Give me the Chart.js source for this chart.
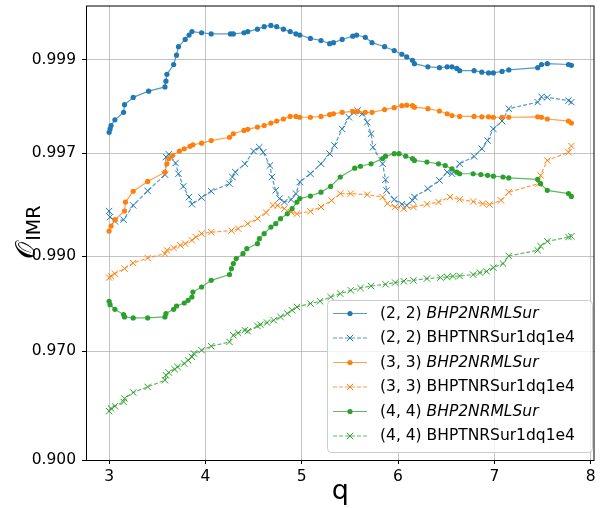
<!DOCTYPE html>
<html>
<head>
<meta charset="utf-8">
<script src="https://cdn.jsdelivr.net/npm/chart.js@4.4.0/dist/chart.umd.min.js"></script>
<style>
  html, body { margin: 0; padding: 0; background: #fff; }
</style>
</head>
<body>
<canvas id="imrChart" width="600" height="508"></canvas>
<script>
// ---- data (q, overlap O) ----
const q22Sur = [3.00,3.01,3.02,3.06,3.15,3.16,3.25,3.41,3.58,3.59,3.60,3.67,3.70,3.72,3.79,3.83,3.86,3.96,4.06,4.26,4.29,4.40,4.44,4.54,4.61,4.68,4.74,4.81,4.88,4.94,4.98,5.09,5.20,5.29,5.33,5.42,5.53,5.57,5.66,5.73,5.86,5.96,6.04,6.09,6.15,6.17,6.31,6.43,6.51,6.56,6.61,6.64,6.79,6.87,6.94,6.99,7.08,7.15,7.45,7.49,7.55,7.77,7.80];
const o22Sur = [0.99765,0.99774,0.99783,0.99797,0.99814,0.99830,0.99844,0.99855,0.99862,0.99871,0.99881,0.99894,0.99905,0.99914,0.99921,0.99925,0.99928,0.99927,0.99926,0.99926,0.99926,0.99927,0.99928,0.99930,0.99932,0.99933,0.99932,0.99930,0.99928,0.99926,0.99925,0.99922,0.99920,0.99917,0.99918,0.99921,0.99924,0.99925,0.99923,0.99918,0.99914,0.99910,0.99906,0.99903,0.99899,0.99895,0.99891,0.99890,0.99891,0.99891,0.99889,0.99886,0.99886,0.99884,0.99883,0.99883,0.99885,0.99887,0.99890,0.99894,0.99895,0.99894,0.99893];

const q22Tnr = [3.00,3.01,3.06,3.15,3.25,3.40,3.58,3.59,3.62,3.69,3.72,3.77,3.83,3.86,3.96,4.06,4.25,4.28,4.31,4.41,4.50,4.56,4.60,4.67,4.69,4.73,4.77,4.82,4.89,4.94,4.98,5.09,5.20,5.29,5.34,5.42,5.49,5.54,5.58,5.63,5.68,5.72,5.74,5.84,5.87,5.88,5.96,6.04,6.09,6.15,6.17,6.31,6.43,6.51,6.56,6.64,6.79,6.87,6.93,6.99,7.08,7.15,7.45,7.49,7.55,7.77,7.80];
const o22Tnr = [0.99409,0.99366,0.99333,0.99346,0.99447,0.99533,0.99614,0.99686,0.99696,0.99663,0.99618,0.99557,0.99498,0.99454,0.99495,0.99531,0.99571,0.99603,0.99625,0.99660,0.99707,0.99720,0.99703,0.99653,0.99603,0.99536,0.99489,0.99468,0.99483,0.99518,0.99579,0.99618,0.99660,0.99698,0.99726,0.99774,0.99803,0.99814,0.99818,0.99811,0.99791,0.99761,0.99720,0.99660,0.99590,0.99536,0.99483,0.99454,0.99447,0.99478,0.99498,0.99545,0.99587,0.99625,0.99618,0.99660,0.99688,0.99715,0.99741,0.99774,0.99794,0.99822,0.99835,0.99845,0.99844,0.99838,0.99835];

const q33Sur = [3.00,3.02,3.06,3.16,3.17,3.25,3.40,3.58,3.60,3.62,3.66,3.73,3.78,3.84,3.87,3.96,4.06,4.25,4.29,4.40,4.44,4.54,4.61,4.68,4.74,4.81,4.88,4.94,4.98,5.09,5.20,5.29,5.33,5.42,5.53,5.58,5.66,5.73,5.86,5.96,6.04,6.09,6.15,6.17,6.31,6.43,6.51,6.56,6.64,6.79,6.87,6.94,6.99,7.08,7.15,7.45,7.49,7.55,7.77,7.80];
const o33Sur = [0.99253,0.99296,0.99346,0.99409,0.99468,0.99531,0.99582,0.99625,0.99660,0.99680,0.99692,0.99707,0.99715,0.99723,0.99728,0.99733,0.99741,0.99751,0.99761,0.99770,0.99773,0.99779,0.99783,0.99789,0.99794,0.99799,0.99805,0.99805,0.99803,0.99803,0.99805,0.99809,0.99811,0.99814,0.99816,0.99816,0.99814,0.99814,0.99820,0.99824,0.99828,0.99829,0.99828,0.99825,0.99822,0.99817,0.99811,0.99807,0.99805,0.99805,0.99804,0.99804,0.99803,0.99803,0.99803,0.99804,0.99803,0.99799,0.99794,0.99789];

const q33Tnr = [3.00,3.02,3.06,3.16,3.25,3.40,3.58,3.60,3.67,3.74,3.79,3.86,3.90,3.96,4.06,4.27,4.34,4.44,4.54,4.63,4.70,4.75,4.82,4.89,4.95,5.09,5.20,5.31,5.40,5.51,5.68,5.84,5.89,5.97,6.06,6.16,6.30,6.42,6.54,6.64,6.78,6.88,6.95,7.07,7.15,7.46,7.48,7.55,7.77,7.80];
const o33Tnr = [0.98716,0.98735,0.98774,0.98843,0.98916,0.98978,0.99028,0.99065,0.99090,0.99118,0.99135,0.99168,0.99199,0.99230,0.99244,0.99257,0.99274,0.99315,0.99354,0.99398,0.99447,0.99447,0.99425,0.99402,0.99390,0.99407,0.99436,0.99478,0.99518,0.99518,0.99512,0.99498,0.99458,0.99436,0.99425,0.99436,0.99454,0.99468,0.99498,0.99484,0.99471,0.99458,0.99452,0.99478,0.99526,0.99571,0.99611,0.99673,0.99703,0.99724];

const q44Sur = [3.00,3.01,3.06,3.15,3.16,3.25,3.40,3.58,3.59,3.67,3.70,3.78,3.82,3.86,3.87,3.96,4.06,4.25,4.27,4.29,4.32,4.39,4.43,4.54,4.56,4.61,4.68,4.73,4.78,4.85,4.90,4.95,4.98,5.09,5.20,5.30,5.40,5.55,5.61,5.72,5.84,5.87,5.96,6.01,6.08,6.15,6.17,6.30,6.42,6.49,6.56,6.61,6.64,6.78,6.86,6.93,6.99,7.09,7.15,7.45,7.48,7.55,7.77,7.80];
const o44Sur = [0.98311,0.98244,0.98147,0.98031,0.97976,0.97952,0.97952,0.97976,0.98054,0.98147,0.98216,0.98277,0.98329,0.98392,0.98482,0.98568,0.98674,0.98760,0.98843,0.98909,0.98971,0.99028,0.99083,0.99135,0.99184,0.99230,0.99287,0.99315,0.99354,0.99390,0.99425,0.99468,0.99489,0.99504,0.99526,0.99557,0.99603,0.99642,0.99650,0.99660,0.99680,0.99689,0.99698,0.99698,0.99689,0.99680,0.99673,0.99667,0.99660,0.99653,0.99639,0.99625,0.99618,0.99618,0.99614,0.99611,0.99607,0.99603,0.99599,0.99592,0.99571,0.99536,0.99518,0.99502];

const q44Tnr = [3.00,3.02,3.06,3.15,3.16,3.25,3.40,3.58,3.59,3.62,3.68,3.71,3.78,3.82,3.86,3.88,3.96,4.06,4.25,4.29,4.34,4.41,4.44,4.54,4.57,4.64,4.71,4.78,4.85,4.90,4.95,5.09,5.19,5.30,5.40,5.51,5.61,5.72,5.87,5.97,6.06,6.16,6.30,6.44,6.51,6.57,6.64,6.78,6.85,6.92,6.99,7.09,7.15,7.45,7.48,7.55,7.77,7.80];
const o44Tnr = [0.94112,0.94286,0.94430,0.94689,0.94887,0.95217,0.95509,0.95834,0.96062,0.96180,0.96321,0.96414,0.96549,0.96677,0.96800,0.96922,0.97036,0.97167,0.97303,0.97502,0.97567,0.97641,0.97614,0.97754,0.97789,0.97840,0.97897,0.97976,0.98054,0.98126,0.98196,0.98266,0.98311,0.98392,0.98454,0.98512,0.98551,0.98584,0.98613,0.98640,0.98661,0.98674,0.98701,0.98716,0.98726,0.98735,0.98740,0.98760,0.98789,0.98806,0.98856,0.98909,0.99001,0.99065,0.99110,0.99158,0.99199,0.99206];

const modePrefix = ['(2, 2) ', '(2, 2) ', '(3, 3) ', '(3, 3) ', '(4, 4) ', '(4, 4) '];
const modelNames = ['BHP2NRMLSur', 'BHPTNRSur1dq1e4', 'BHP2NRMLSur', 'BHPTNRSur1dq1e4', 'BHP2NRMLSur', 'BHPTNRSur1dq1e4'];
const xTickVals = [3, 4, 5, 6, 7, 8];
const yTickVals = [0.900, 0.970, 0.990, 0.997, 0.999];

// logit axis (matplotlib yscale('logit')), done by hand on a linear scale
const logit = o => Math.log10(o / (1 - o));

const BLUE = '#1f77b4', ORANGE = '#ff7f0e', GREEN = '#2ca02c';
const FONT = '"DejaVu Sans", sans-serif';

function fade(hex, a) {
  const n = parseInt(hex.slice(1), 16);
  return `rgba(${n >> 16},${(n >> 8) & 255},${n & 255},${a})`;
}

function series(idx, qs, os, color, dashed) {
  const n = Math.min(qs.length, os.length);
  const pts = [];
  for (let i = 0; i < n; i++) pts.push({ x: qs[i], y: logit(os[i]) });
  return {
    label: modePrefix[idx] + modelNames[idx],
    data: pts,
    showLine: true,
    order: 10 - idx,
    borderColor: fade(color, 0.75),
    borderWidth: 1.2,
    borderDash: dashed ? [4, 2] : [],
    pointStyle: dashed ? 'crossRot' : 'circle',
    pointRadius: dashed ? 4.5 : 2.6,
    pointBorderWidth: dashed ? 1 : 0,
    pointBorderColor: color,
    pointBackgroundColor: color,
    _color: color,
    _dashed: dashed,
  };
}

const datasets = [
  series(0, q22Sur, o22Sur, BLUE, false),
  series(1, q22Tnr, o22Tnr, BLUE, true),
  series(2, q33Sur, o33Sur, ORANGE, false),
  series(3, q33Tnr, o33Tnr, ORANGE, true),
  series(4, q44Sur, o44Sur, GREEN, false),
  series(5, q44Tnr, o44Tnr, GREEN, true),
];

// frame, axis titles and the mixed-font legend
const decorations = {
  id: 'decorations',
  afterDraw(chart) {
    const { ctx, chartArea: a } = chart;
    ctx.save();

    // spines
    ctx.strokeStyle = '#000';
    ctx.lineWidth = 1;
    ctx.setLineDash([]);
    ctx.strokeRect(a.left + 0.5, a.top + 0.5, a.right - a.left - 1, a.bottom - a.top);

    // x title
    ctx.fillStyle = '#000';
    ctx.font = '27px ' + FONT;
    ctx.textAlign = 'center';
    ctx.textBaseline = 'alphabetic';
    ctx.fillText('q', (a.left + a.right) / 2, 499);

    // y title: O_IMR
    ctx.translate(35, (a.top + a.bottom) / 2);
    ctx.rotate(-Math.PI / 2);
    ctx.textAlign = 'left';
    ctx.font = '27px ' + FONT;
    const wO = ctx.measureText('𝒪').width;
    ctx.font = '19px ' + FONT;
    const wS = ctx.measureText('IMR').width;
    const x0 = -(wO + wS) / 2;
    ctx.font = '27px ' + FONT;
    ctx.fillText('𝒪', x0, 0);
    ctx.font = '19px ' + FONT;
    ctx.fillText('IMR', x0 + wO + 1, 5);
    ctx.restore();

    // legend
    ctx.save();
    const bx = 327.5, by = 300.5, bw = 265, bh = 152;
    ctx.beginPath();
    ctx.roundRect(bx, by, bw, bh, 4);
    ctx.fillStyle = 'rgba(255,255,255,0.8)';
    ctx.fill();
    ctx.strokeStyle = '#cccccc';
    ctx.lineWidth = 1;
    ctx.stroke();
    ctx.textBaseline = 'middle';
    ctx.textAlign = 'left';
    chart.data.datasets.forEach((ds, i) => {
      const cy = 313.5 + i * 24.5;
      ctx.strokeStyle = fade(ds._color, 0.75);
      ctx.lineWidth = 1.2;
      ctx.setLineDash(ds._dashed ? [4, 2] : []);
      ctx.beginPath();
      ctx.moveTo(333, cy);
      ctx.lineTo(367, cy);
      ctx.stroke();
      ctx.setLineDash([]);
      if (ds._dashed) {
        const r = 3.2;
        ctx.strokeStyle = ds._color;
        ctx.lineWidth = 1;
        ctx.beginPath();
        ctx.moveTo(350 - r, cy - r); ctx.lineTo(350 + r, cy + r);
        ctx.moveTo(350 - r, cy + r); ctx.lineTo(350 + r, cy - r);
        ctx.stroke();
      } else {
        ctx.fillStyle = ds._color;
        ctx.beginPath();
        ctx.arc(350, cy, 2.6, 0, Math.PI * 2);
        ctx.fill();
      }
      ctx.fillStyle = '#000';
      ctx.font = '15.5px ' + FONT;
      ctx.fillText(modePrefix[i], 380, cy);
      const w = ctx.measureText(modePrefix[i]).width;
      ctx.font = (ds._dashed ? '' : 'italic ') + '15.5px ' + FONT;
      ctx.fillText(modelNames[i], 380 + w, cy);
    });
    ctx.restore();
  }
};

new Chart(document.getElementById('imrChart'), {
  type: 'scatter',
  data: { datasets },
  options: {
    responsive: false,
    animation: false,
    layout: { padding: { top: 5, right: 1, left: 0, bottom: 0 } },
    plugins: { legend: { display: false }, tooltip: { enabled: false } },
    scales: {
      x: {
        type: 'linear',
        min: 2.76,
        max: 8.04,
        border: { display: false },
        grid: { color: 'rgba(176,176,176,0.75)', lineWidth: 1, tickColor: '#000', tickLength: 4, tickWidth: 1 },
        ticks: { color: '#000', font: { family: FONT, size: 15.5 }, padding: 4, maxRotation: 0, autoSkip: false },
        afterBuildTicks: s => { s.ticks = xTickVals.map(v => ({ value: v })); },
        afterFit: s => { s.height = 48; s.paddingLeft = 0; s.paddingRight = 0; },
      },
      y: {
        type: 'linear',
        min: logit(yTickVals[0]),
        max: logit(0.99947),
        border: { display: false },
        grid: { color: 'rgba(176,176,176,0.75)', lineWidth: 1, tickColor: '#000', tickLength: 4, tickWidth: 1 },
        ticks: {
          color: '#000',
          font: { family: FONT, size: 15.5 },
          padding: 6,
          autoSkip: false,
          callback: (v, i) => yTickVals[i].toFixed(3),
        },
        afterBuildTicks: s => { s.ticks = yTickVals.map(v => ({ value: logit(v) })); },
        afterFit: s => { s.width = 86; s.paddingTop = 0; s.paddingBottom = 0; },
      },
    },
  },
  plugins: [decorations],
});
</script>
</body>
</html>
